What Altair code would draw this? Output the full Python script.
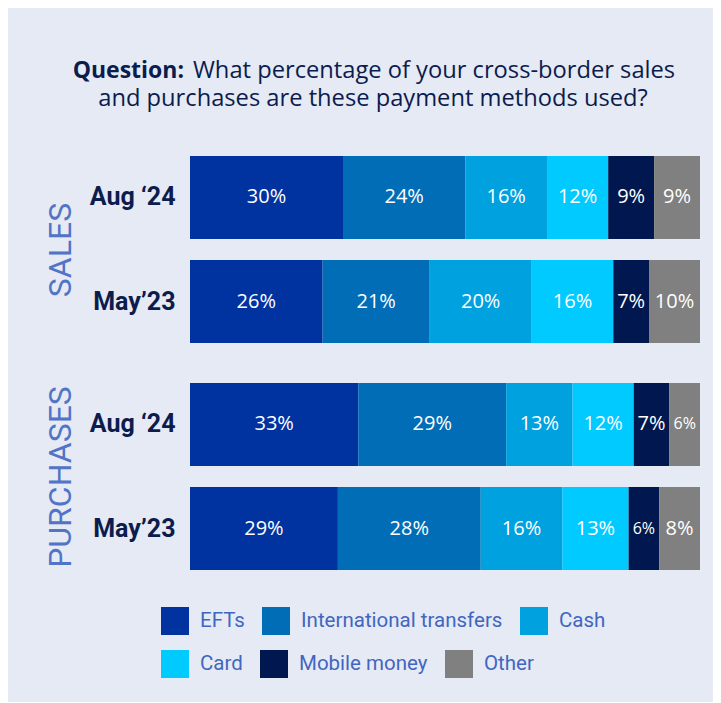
import altair as alt
import pandas as pd

# ---- data ----
methods = ["EFTs", "International transfers", "Cash", "Card", "Mobile money", "Other"]
periods = ["Aug \u201824", "May\u201923"]
groups = ["SALES", "PURCHASES"]

sales_aug24 = [30, 24, 16, 12, 9, 9]
sales_may23 = [26, 21, 20, 16, 7, 10]
purch_aug24 = [33, 29, 13, 12, 7, 6]
purch_may23 = [29, 28, 16, 13, 6, 8]

colors = ["#0033A0", "#006DB6", "#00A1DF", "#00CAFF", "#00184F", "#808080"]

title_bold = "Question:"
title_rest = "What percentage of your cross-border sales"
title_line2 = "and purchases are these payment methods used?"

rows = []
for grp, per, vals in [
    ("SALES", periods[0], sales_aug24),
    ("SALES", periods[1], sales_may23),
    ("PURCHASES", periods[0], purch_aug24),
    ("PURCHASES", periods[1], purch_may23),
]:
    for i, (m, v) in enumerate(zip(methods, vals)):
        rows.append({"group": grp, "period": per, "method": m, "order": i,
                     "value": v, "label": f"{v}%"})
df = pd.DataFrame(rows)

BG = "#E5EAF5"
NAVY = "#0C1C4C"
BLUE = "#5274C6"
LEG = "#4266C0"

color_scale = alt.Scale(domain=methods, range=colors)


def legend_layer(idx, legend_y):
    # legend row built from the same colour mapping; no marks drawn
    dom = [methods[i] for i in idx]
    rng = [colors[i] for i in idx]
    return (
        alt.Chart(df)
        .transform_filter("false")
        .mark_square(filled=True)
        .encode(
            fill=alt.Fill(
                "method:N", scale=alt.Scale(domain=dom, range=rng),
                legend=alt.Legend(
                    title=None, orient="none", legendX=-29, legendY=legend_y,
                    direction="horizontal",
                    symbolType="square", symbolSize=784, symbolStrokeWidth=0,
                    symbolOpacity=1,
                    labelFontSize=20.5, labelColor=LEG, labelFont="Roboto",
                    labelOffset=11, columnPadding=17, labelLimit=400,
                ),
            )
        )
    )


def panel(group, legend_idx, legend_y):
    base = (
        alt.Chart(df)
        .transform_filter(alt.datum.group == group)
        .transform_stack(stack="value", groupby=["period"], as_=["v0", "v1"],
                         sort=[alt.SortField("order", order="ascending")])
        .transform_calculate(mid="(datum.v0 + datum.v1) / 2")
    )
    y = alt.Y(
        "period:N", sort=periods,
        scale=alt.Scale(paddingInner=0.202, paddingOuter=0),
        axis=alt.Axis(title=group, domain=False, ticks=False,
                      labelFontSize=25, labelFontWeight="bold", labelColor=NAVY,
                      labelFont="Roboto", labelPadding=15,
                      titleFontSize=32, titleFontWeight="normal", titleColor=BLUE,
                      titleFont="Roboto", titlePadding=12),
    )
    bars = base.mark_bar().encode(
        x=alt.X("v0:Q", scale=alt.Scale(domain=[0, 100], nice=False), axis=None),
        x2="v1:Q",
        y=y,
        color=alt.Color("method:N", scale=color_scale, sort=methods, legend=None),
    )
    text = base.mark_text(color="white", font="Open Sans", baseline="middle").encode(
        x="mid:Q",
        y=alt.Y("period:N", sort=periods),
        text="label:N",
        size=alt.condition(alt.datum.value <= 6, alt.value(16), alt.value(20)),
    )
    return alt.layer(bars, text, legend_layer(legend_idx, legend_y)).properties(
        width=510, height=187)


def tchart(txt):
    return alt.Chart(pd.DataFrame({"t": [txt]}))


t1 = tchart(title_bold).mark_text(font="Open Sans", fontSize=23, fontWeight="bold",
                                   color=NAVY, align="right", baseline="alphabetic").encode(
    x=alt.value(-6), y=alt.value(70), text="t:N")
t2 = tchart(title_rest).mark_text(font="Open Sans", fontSize=23.7, color=NAVY,
                                   align="left", baseline="alphabetic").encode(
    x=alt.value(3), y=alt.value(70), text="t:N")
t3 = tchart(title_line2).mark_text(font="Open Sans", fontSize=23.7, color=NAVY,
                                    align="center", baseline="alphabetic").encode(
    x=alt.value(183), y=alt.value(98), text="t:N")
title_chart = alt.layer(t1, t2, t3).properties(width=510, height=108)

chart = (
    alt.vconcat(title_chart,
                panel("SALES", [0, 1, 2], 451),
                panel("PURCHASES", [3, 4, 5], 267),
                spacing=40, bounds="flush")
    .resolve_scale(color="shared", fill="independent")
    .resolve_legend(fill="independent")
    .properties(background=BG,
                padding={"left": 36, "top": 0, "right": 13, "bottom": 24})
    .configure_view(stroke=None)
)

chart.save("out.html", embed_options={"renderer": "svg", "actions": False})
